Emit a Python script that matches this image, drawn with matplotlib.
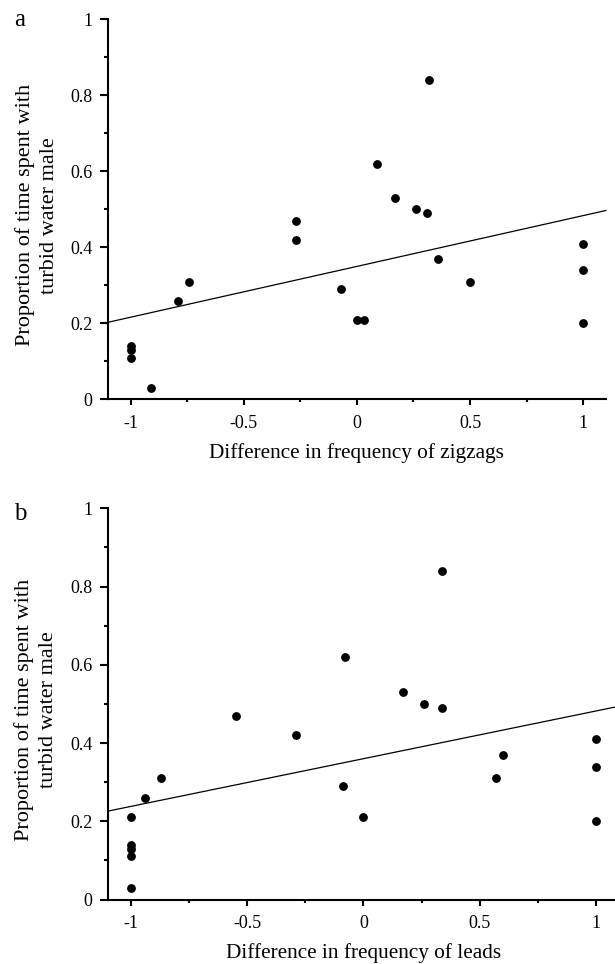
import matplotlib
matplotlib.use("Agg")
import matplotlib.pyplot as plt
from matplotlib.ticker import MultipleLocator, FuncFormatter

# ---- data ----
zig_x = [-1, -1, -1, -0.91, -0.79, -0.74, -0.27, -0.27, -0.07, 0.0, 0.03,
         0.09, 0.17, 0.26, 0.31, 0.32, 0.36, 0.5, 1, 1, 1]
zig_y = [0.14, 0.13, 0.11, 0.03, 0.26, 0.31, 0.47, 0.42, 0.29, 0.21, 0.21,
         0.62, 0.53, 0.50, 0.49, 0.84, 0.37, 0.31, 0.41, 0.34, 0.20]
lead_x = [-1, -1, -1, -1, -1, -0.94, -0.87, -0.55, -0.29, -0.09, -0.08,
          0.0, 0.17, 0.26, 0.34, 0.34, 0.57, 0.60, 1, 1, 1]
lead_y = [0.21, 0.14, 0.13, 0.11, 0.03, 0.26, 0.31, 0.47, 0.42, 0.29, 0.62,
          0.21, 0.53, 0.50, 0.49, 0.84, 0.31, 0.37, 0.41, 0.34, 0.20]
fit_a_x = [-1.1, 1.1]
fit_a_y = [0.203, 0.497]
fit_b_x = [-1.1, 1.1]
fit_b_y = [0.226, 0.494]
x_ticks = [-1, -0.5, 0, 0.5, 1]
y_ticks = [0, 0.2, 0.4, 0.6, 0.8, 1]
ylabel = "Proportion of time spent with\nturbid water male"
xlabel_a = "Difference in frequency of zigzags"
xlabel_b = "Difference in frequency of leads"

plt.rcParams['font.family'] = ['Liberation Serif', 'DejaVu Serif']

fig = plt.figure(figsize=(6.15, 9.64), dpi=100)
ax_a = fig.add_axes([0.1756, 0.5856, 0.8094, 0.3944])
ax_b = fig.add_axes([0.1756, 0.0669, 0.8309, 0.4058])


def fmt(v, pos):
    return "%g" % v


def style(ax, xl):
    ax.set_xlim(-1.1, 1.1)
    ax.set_ylim(0, 1)
    for s in ("top", "right"):
        ax.spines[s].set_visible(False)
    for s in ("left", "bottom"):
        ax.spines[s].set_linewidth(1.5)
    ax.set_xticks(x_ticks)
    ax.set_yticks(y_ticks)
    ax.xaxis.set_minor_locator(MultipleLocator(0.25))
    ax.yaxis.set_minor_locator(MultipleLocator(0.1))
    ax.xaxis.set_major_formatter(FuncFormatter(fmt))
    ax.yaxis.set_major_formatter(FuncFormatter(fmt))
    ax.tick_params(axis='x', which='major', direction='out', length=4.5,
                   width=1.5, pad=7, labelsize=13)
    ax.tick_params(axis='x', which='minor', direction='out', length=2.5,
                   width=1.5)
    ax.tick_params(axis='y', which='major', direction='out', length=6,
                   width=1.5, pad=5, labelsize=13)
    ax.tick_params(axis='y', which='minor', direction='out', length=3,
                   width=1.5)
    ax.set_xlabel(xl, fontsize=15.3, labelpad=8)
    ax.set_ylabel(ylabel, fontsize=16, linespacing=1.35)
    h = ax.get_position().height * 964
    ax.yaxis.set_label_coords(-0.098, 1 - (6 + h / 2) / h)


ax_a.plot(fit_a_x, fit_a_y, color='black', lw=0.9, clip_on=False)
ax_a.plot(zig_x, zig_y, 'o', color='black', ms=5.3, clip_on=False)
style(ax_a, xlabel_a)

ax_b.plot(fit_b_x, fit_b_y, color='black', lw=0.9, clip_on=False)
ax_b.plot(lead_x, lead_y, 'o', color='black', ms=5.3, clip_on=False)
style(ax_b, xlabel_b)

fig.text(20 / 615, 1 - 20 / 964, "a", fontsize=18, ha='center', va='center')
fig.text(20 / 615, 1 - 514 / 964, "b", fontsize=18, ha='center', va='center')

fig.savefig("out.png", dpi=100)
